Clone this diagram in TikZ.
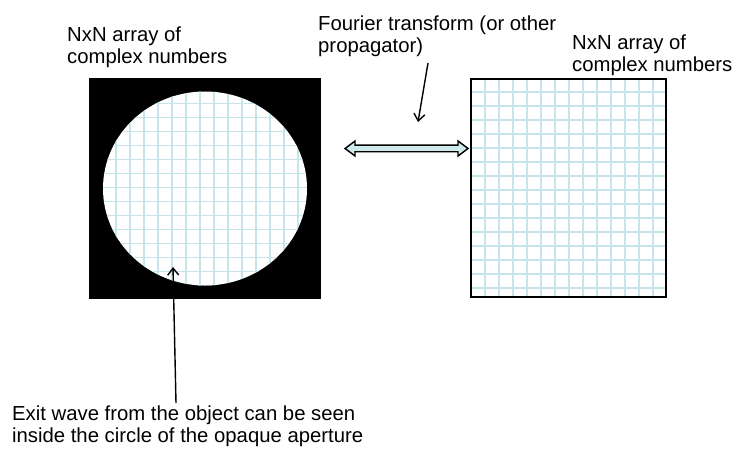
\documentclass[tikz,border=0pt]{standalone}
\usepackage{fontspec}
\setmainfont{Liberation Sans}
\usetikzlibrary{arrows.meta}
\definecolor{gridc}{RGB}{196,230,234}
\definecolor{arrfill}{RGB}{205,234,236}
\begin{document}
\begin{tikzpicture}[x=1pt,y=-1pt,
  lbl/.style={anchor=base west, inner sep=0pt, align=left, font=\fontsize{20.3}{22}\selectfont},
  gridline/.style={draw=gridc, line width=1.7pt},
  pointer/.style={draw=black, line width=1.4pt, -{Straight Barb[length=7pt,width=11pt,line width=1.4pt]}},
]
\useasboundingbox (0,0) rectangle (735,457);

% left array with aperture
\node[fill=black, minimum width=232pt, minimum height=221pt, inner sep=0pt] (leftarr) at (205,188.5) {};
\fill[white] (205,188.5) ellipse [x radius=102, y radius=97];
\begin{scope}
  \clip (205,188.5) ellipse [x radius=102, y radius=97];
  \foreach \i in {0,...,15} {\draw[gridline] (102+14*\i,80) -- (102+14*\i,297);}
  \foreach \j in {0,...,14} {\draw[gridline] (91,89.5+14*\j) -- (319,89.5+14*\j);}
\end{scope}

% right array
\foreach \i in {1,...,13} {\draw[gridline] (471+14*\i,79) -- (471+14*\i,297);}
\foreach \j in {0,...,14} {\draw[gridline] (471,92+14*\j) -- (666,92+14*\j);}
\node[draw=black, line width=1.6pt, minimum width=195pt, minimum height=218pt, inner sep=0pt] (rightarr) at (568.5,188) {};

% double block arrow between arrays
\draw[fill=arrfill, line width=1.4pt, line join=miter]
  (345,148.5) -- (355,141) -- (355,145.2) -- (458,145.2) -- (458,141) -- (468,148.5)
  -- (458,156) -- (458,151.8) -- (355,151.8) -- (355,156) -- cycle;

% labels (base anchor = baseline of last line)
\node[lbl] (leftlbl) at (67,64) {NxN array of\\complex numbers};
\node[lbl] (rightlbl) at (572,72) {NxN array of\\complex numbers};
\node[lbl] (fourier) at (318,53) {Fourier transform (or other\\propagator)};
\node[lbl] (exitlbl) at (12,442) {Exit wave from the object can be seen\\inside the circle of the opaque aperture};

% pointers
\coordinate (ftail) at (428,63);
\coordinate (ftip) at (418,122);
\draw[pointer] (ftail) -- (ftip);
\coordinate (etail) at (176,403);
\coordinate (etip) at (173,267);
\draw[pointer] (etail) -- (etip);
\end{tikzpicture}
\end{document}
